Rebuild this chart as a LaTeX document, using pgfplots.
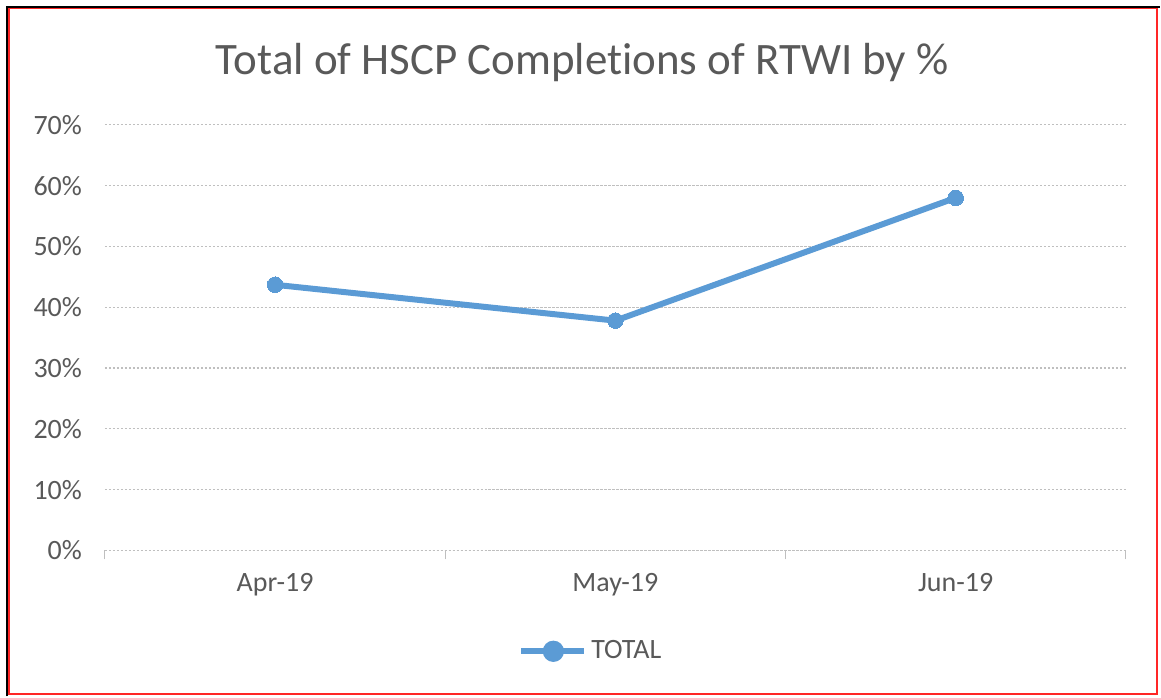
\documentclass[border=0pt]{standalone}
\usepackage{pgfplots}
\pgfplotsset{compat=1.18}
\usepackage{fontspec}
\setmainfont{Carlito}[Ligatures=NoCommon]
\definecolor{exblue}{HTML}{5B9BD5}
\definecolor{txtgray}{HTML}{595959}
\definecolor{gridgray}{HTML}{BFBFBF}
\begin{document}
\begin{tikzpicture}
\path (0pt,0pt) rectangle (580.5pt,348.5pt);
% border
\draw[black,line width=1.2pt] (3.5pt,0pt) -- (3.5pt,345pt) -- (580.5pt,345pt);
\draw[red!85!white,line width=0.9pt] (4.5pt,1pt) rectangle (579.25pt,344.25pt);
\node[anchor=base,text=txtgray,font=\fontsize{22.5}{27}\selectfont] at (291.5pt,311pt) {Total of HSCP Completions of RTWI by \%};
\begin{axis}[
  at={(52.5pt,73pt)}, anchor=south west,
  scale only axis, width=511pt, height=213pt,
  xmin=-0.5, xmax=2.5, ymin=0, ymax=0.7,
  xtick={0,1,2}, xticklabels={Apr-19,May-19,Jun-19},
  extra x ticks={-0.5,0.5,1.5,2.5}, extra x tick labels={},
  extra x tick style={major tick length=4.5pt, tick style={gridgray, line width=0.6pt}, tick align=outside, grid=none},
  ytick={0,0.1,0.2,0.3,0.4,0.5,0.6,0.7},
  yticklabels={0\%,10\%,20\%,30\%,40\%,50\%,60\%,70\%},
  major tick length=0pt,
  ymajorgrids,
  grid style={gridgray, dash pattern=on 1.2pt off 0.8pt, line width=0.6pt},
  axis x line*=bottom, axis y line*=left,
  y axis line style={draw=none},
  x axis line style={gridgray, dash pattern=on 1.2pt off 0.8pt, line width=0.6pt, -},
  tick label style={text=txtgray, font=\fontsize{14}{17}\selectfont},
  yticklabel style={xshift=-8pt},
  xticklabel style={yshift=-8pt},
  /pgf/number format/assume math mode=true,
  legend style={at={(0.477,-0.237)}, anchor=center, draw=none, font=\fontsize{14}{17}\selectfont, text=txtgray, legend cell align=left},
  legend image code/.code={\draw[#1, line width=3pt] (0pt,0pt) -- (31.5pt,0pt); \fill[exblue] (16pt,0pt) circle (3.8pt);},
]
\addplot[exblue, line width=3pt, mark=*, mark size=3.9pt, mark options={fill=exblue, draw=exblue, line width=0pt}] coordinates {(0,0.437) (1,0.378) (2,0.58)};
\addlegendentry{TOTAL}
\end{axis}
\end{tikzpicture}
\end{document}
